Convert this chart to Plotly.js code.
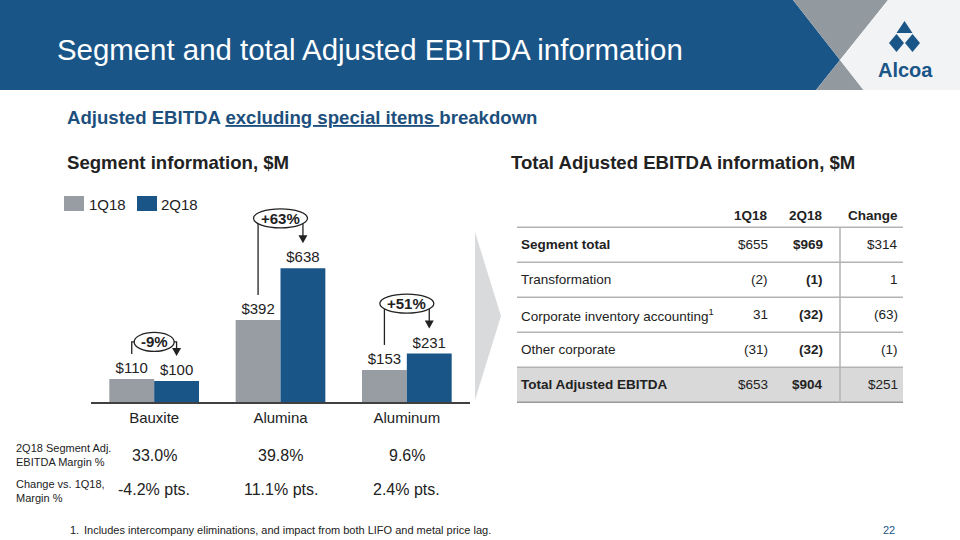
<!DOCTYPE html>
<html><head><meta charset="utf-8">
<script src="https://cdn.plot.ly/plotly-3.0.1.min.js"></script>
<style>html,body{margin:0;padding:0;background:#fff}#chart{width:960px;height:540px}</style>
</head><body><div id="chart"></div>
<script>
// ---------- data ----------
const categories = ['Bauxite', 'Alumina', 'Aluminum'];
const seriesNames = ['1Q18', '2Q18'];
const q1Values = [110, 392, 153];
const q2Values = [100, 638, 231];
const changeLabels = ['-9%', '+63%', '+51%'];
const marginValues = ['33.0%', '39.8%', '9.6%'];
const marginChange = ['-4.2% pts.', '11.1% pts.', '2.4% pts.'];
const tableColumns = ['1Q18', '2Q18', 'Change'];
const rowLabels = ['Segment total', 'Transformation', 'Corporate inventory accounting<sup>1</sup>', 'Other corporate', 'Total Adjusted EBITDA'];
const col1Q18 = ['$655', '(2)', '31', '(31)', '$653'];
const col2Q18 = ['$969', '(1)', '(32)', '(32)', '$904'];
const colChange = ['$314', '1', '(63)', '(1)', '$251'];
const boldRows = [true, false, false, false, true];

// ---------- layout helpers ----------
const W = 960, H = 540;
const P = x => x / W, Q = y => 1 - y / H;
const FONT = 'Arial, "Liberation Sans", sans-serif';
const BLUE = '#1a5588', GRAY = '#979da2', INK = '#222222';
const plotL = 91, plotR = 470, plotB = 402, plotT = 190, yMax = 1012;
const bargap = 0.29;
const step = (plotR - plotL) / categories.length;
const barW = step * (1 - bargap) / 2;
const catX = i => plotL + step * (i + 0.5);
const yPx = v => plotB - v / yMax * (plotB - plotT);
const pathOf = pts => pts.map((p, k) => (k ? 'L' : 'M') + P(p[0]).toFixed(5) + ',' + Q(p[1]).toFixed(5)).join(' ');
const PADX = 3; // annotation inner padding compensation

const shapes = [];
const annotations = [];
const note = (x, y, text, size, color, xanchor, extra) => {
  const a = {xref: 'paper', yref: 'paper', x: P(xanchor === 'left' ? x - PADX : (xanchor === 'right' ? x + PADX : x)), y: Q(y),
    xanchor: xanchor, yanchor: 'middle', showarrow: false, text: text, font: {family: FONT, size: size, color: color}};
  annotations.push(Object.assign(a, extra || {}));
};

// header
shapes.push({type: 'path', xref: 'paper', yref: 'paper', layer: 'below', line: {width: 0}, fillcolor: BLUE,
  path: pathOf([[0, 0], [793, 0], [840, 60], [816, 90], [0, 90]]) + ' Z'});
shapes.push({type: 'path', xref: 'paper', yref: 'paper', layer: 'below', line: {width: 0}, fillcolor: '#939a9f',
  path: pathOf([[793, 0], [888, 0], [840, 60]]) + ' Z'});
shapes.push({type: 'path', xref: 'paper', yref: 'paper', layer: 'below', line: {width: 0}, fillcolor: '#939a9f',
  path: pathOf([[840, 60], [863.5, 90], [816, 90]]) + ' Z'});
shapes.push({type: 'path', xref: 'paper', yref: 'paper', layer: 'below', line: {width: 0}, fillcolor: '#f2f3f5',
  path: pathOf([[888, 0], [960, 0], [960, 90], [863.5, 90], [840, 60]]) + ' Z'});
// logo mark
shapes.push({type: 'path', xref: 'paper', yref: 'paper', line: {width: 0}, fillcolor: BLUE,
  path: pathOf([[904.5, 21], [912.5, 33], [896.5, 33]]) + ' Z'});
shapes.push({type: 'path', xref: 'paper', yref: 'paper', line: {width: 0}, fillcolor: BLUE,
  path: pathOf([[896.5, 34], [904, 43], [896.5, 52], [889, 43]]) + ' Z'});
shapes.push({type: 'path', xref: 'paper', yref: 'paper', line: {width: 0}, fillcolor: BLUE,
  path: pathOf([[912.5, 34], [920, 43], [912.5, 52], [905, 43]]) + ' Z'});
note(905, 70, '<b>Alcoa</b>', 20, BLUE, 'center');
note(58, 50, 'Segment and total Adjusted EBITDA information', 29.4, '#ffffff', 'left');

// sub titles
note(68, 117, '<b>Adjusted EBITDA <u>excluding special items </u>breakdown</b>', 18.6, '#1d4f7d', 'left');
note(68, 163, '<b>Segment information, $M</b>', 18.6, INK, 'left');
note(512, 163, '<b>Total Adjusted EBITDA information, $M</b>', 18.6, INK, 'left');

// legend
shapes.push({type: 'rect', xref: 'paper', yref: 'paper', x0: P(64), x1: P(84), y0: Q(211), y1: Q(196), line: {width: 0}, fillcolor: GRAY});
shapes.push({type: 'rect', xref: 'paper', yref: 'paper', x0: P(137), x1: P(157), y0: Q(211), y1: Q(196), line: {width: 0}, fillcolor: BLUE});
note(90, 204, seriesNames[0], 15, INK, 'left');
note(162, 204, seriesNames[1], 15, INK, 'left');

// change callouts
const calloutLift = [37, 50, 50];
const ellipseW = [40, 54, 54];
const eb = 9.5;
categories.forEach((c, i) => {
  const cx = catX(i), a = ellipseW[i] / 2;
  const ey = yPx(Math.max(q1Values[i], q2Values[i])) - calloutLift[i];
  const lx = cx - barW / 2, rx = cx + barW / 2;
  const ly0 = yPx(q1Values[i]) - 25;
  const ty = yPx(q2Values[i]) - 25;
  const edge = x => ey + eb * Math.sqrt(Math.max(0, 1 - Math.pow((x - cx) / a, 2)));
  const lpts = Math.abs(lx - cx) < a ? [[lx, ly0], [lx, edge(lx)]] : [[lx, ly0], [lx, ey], [cx - a, ey]];
  const rpts = Math.abs(rx - cx) < a ? [[rx, edge(rx)], [rx, ty - 7]] : [[cx + a, ey], [rx, ey], [rx, ty - 7]];
  shapes.push({type: 'path', xref: 'paper', yref: 'paper', line: {width: 1.3, color: INK}, path: pathOf(lpts)});
  shapes.push({type: 'path', xref: 'paper', yref: 'paper', line: {width: 1.3, color: INK}, path: pathOf(rpts)});
  shapes.push({type: 'path', xref: 'paper', yref: 'paper', line: {width: 0}, fillcolor: INK,
    path: pathOf([[rx - 4.5, ty - 8], [rx + 4.5, ty - 8], [rx, ty]]) + ' Z'});
  shapes.push({type: 'circle', xref: 'paper', yref: 'paper', x0: P(cx - a), x1: P(cx + a), y0: Q(ey + eb), y1: Q(ey - eb),
    line: {width: 1.3, color: INK}, fillcolor: '#ffffff'});
  note(cx, ey, '<b>' + changeLabels[i] + '</b>', 15, INK, 'center');
});

// margin rows beneath bars
note(17, 455, '2Q18 Segment Adj.<br>EBITDA Margin %', 11, INK, 'left', {align: 'left'});
note(17, 491, 'Change vs. 1Q18,<br>Margin %', 11, INK, 'left', {align: 'left'});
categories.forEach((c, i) => {
  annotations.push({xref: 'x', yref: 'paper', x: c, y: Q(455), xanchor: 'center', yanchor: 'middle', showarrow: false,
    text: marginValues[i], font: {family: FONT, size: 16, color: INK}});
  annotations.push({xref: 'x', yref: 'paper', x: c, y: Q(489), xanchor: 'center', yanchor: 'middle', showarrow: false,
    text: marginChange[i], font: {family: FONT, size: 16, color: INK}});
});

// chevron
shapes.push({type: 'path', xref: 'paper', yref: 'paper', layer: 'below', line: {width: 0}, fillcolor: '#d9dadc',
  path: pathOf([[475, 232], [501, 316], [475, 400]]) + ' Z'});

// table
const tL = 517, tR = 903, tTop = 227.3, rowH = 35;
const colRight = [767, 822, 897];
shapes.push({type: 'rect', xref: 'paper', yref: 'paper', layer: 'below', x0: P(tL), x1: P(tR),
  y0: Q(tTop + rowH * 5), y1: Q(tTop + rowH * 4), line: {width: 0}, fillcolor: '#d9d9d9'});
for (let r = 0; r <= rowLabels.length; r++) {
  shapes.push({type: 'line', xref: 'paper', yref: 'paper', x0: P(tL), x1: P(tR), y0: Q(tTop + rowH * r), y1: Q(tTop + rowH * r),
    line: {width: 1.5, color: r === rowLabels.length ? '#9a9a9a' : '#b3b3b3'}});
}
shapes.push({type: 'line', xref: 'paper', yref: 'paper', x0: P(840), x1: P(840), y0: Q(tTop), y1: Q(tTop + rowH * 5),
  line: {width: 1.5, color: '#b3b3b3'}});
tableColumns.forEach((h, k) => note(colRight[k], 215, '<b>' + h + '</b>', 13.5, INK, 'right'));
rowLabels.forEach((lab, r) => {
  const yc = tTop + rowH * (r + 0.5);
  const b = t => boldRows[r] ? '<b>' + t + '</b>' : t;
  note(522, yc, b(lab), 13.5, INK, 'left');
  note(colRight[0], yc, col1Q18[r], 13.5, INK, 'right');
  note(colRight[1], yc, '<b>' + col2Q18[r] + '</b>', 13.5, INK, 'right');
  note(colRight[2], yc, colChange[r], 13.5, INK, 'right');
});

// footnote and page number
note(71, 530, '1.', 11, INK, 'left');
note(85, 530, 'Includes intercompany eliminations, and impact from both LIFO and metal price lag.', 11, INK, 'left');
note(889, 530, '22', 11, BLUE, 'center');

const barTrace = (name, vals, color) => ({
  type: 'bar', name: name, x: categories, y: vals,
  marker: {color: color, line: {width: 0}},
  texttemplate: '$%{y}', textposition: 'outside', cliponaxis: false, constraintext: 'none',
  textfont: {family: FONT, size: 15, color: INK}, hoverinfo: 'skip'
});

const data = [barTrace(seriesNames[0], q1Values, GRAY), barTrace(seriesNames[1], q2Values, BLUE)];

const layout = {
  width: W, height: H,
  margin: {l: 0, r: 0, t: 0, b: 0, pad: 0},
  paper_bgcolor: '#ffffff', plot_bgcolor: 'rgba(0,0,0,0)',
  showlegend: false,
  barmode: 'group', bargap: bargap, bargroupgap: 0,
  font: {family: FONT, color: INK},
  xaxis: {domain: [P(plotL), P(plotR)], range: [-0.5, 2.5], type: 'category', showgrid: false, zeroline: false,
    showline: true, linecolor: '#404040', linewidth: 1.5, ticks: '', ticklabelstandoff: 1,
    tickfont: {family: FONT, size: 15, color: INK}, fixedrange: true},
  yaxis: {domain: [Q(plotB), Q(plotT)], range: [0, yMax], visible: false, fixedrange: true},
  shapes: shapes,
  annotations: annotations
};

Plotly.newPlot('chart', data, layout, {displayModeBar: false, staticPlot: true});
</script>
</body></html>
